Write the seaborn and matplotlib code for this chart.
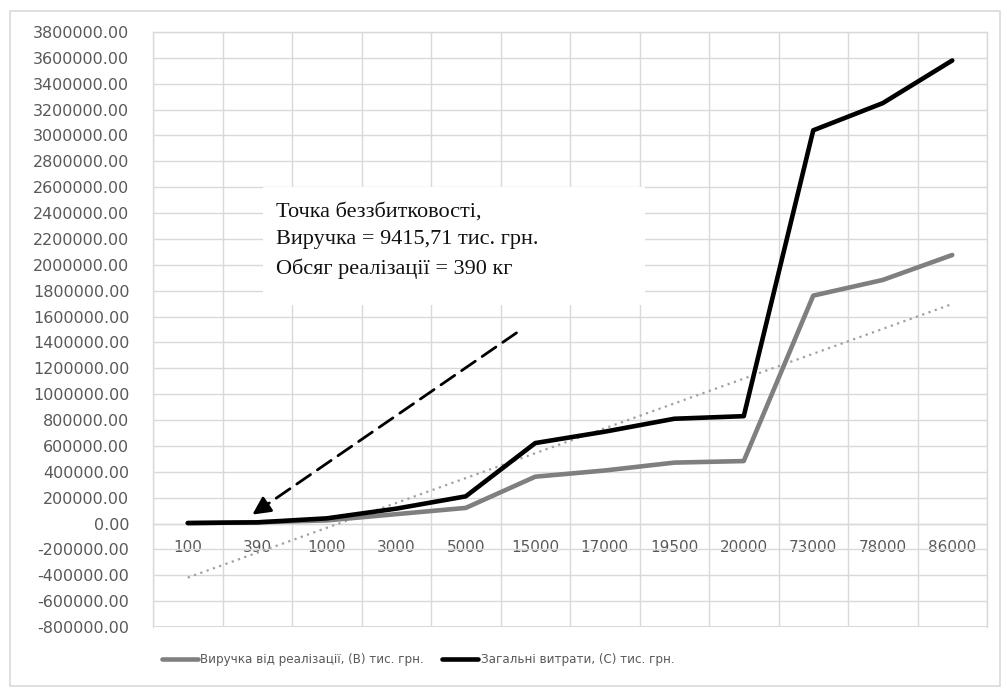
import numpy as np
import pandas as pd
import matplotlib
matplotlib.use("Agg")
import matplotlib.pyplot as plt
import seaborn as sns
from matplotlib.patches import Rectangle
from matplotlib.lines import Line2D

# ---- data ----
volumes = ["100", "390", "1000", "3000", "5000", "15000", "17000",
           "19500", "20000", "73000", "78000", "86000"]
revenue = [2414, 9415.71, 24143, 72430, 120700, 362000, 410000,
           470800, 482900, 1762000, 1883000, 2076000]
total_costs = [4000, 9000, 40000, 115000, 210000, 622000, 710000,
               810000, 830000, 3040000, 3250000, 3580000]
series_names = ["Виручка від реалізації, (В) тис. грн.",
                "Загальні витрати, (С) тис. грн."]
annotation_lines = ["Точка беззбитковості,",
                    "Виручка = 9415,71 тис. грн.",
                    "Обсяг реалізації = 390 кг"]
y_ticks = list(range(-800000, 3800001, 200000))

sns.set_theme(style="white")
plt.rcParams["font.family"] = ["DejaVu Sans"]

W, H = 1007, 689
fig = plt.figure(figsize=(W / 100, H / 100), dpi=100)
ax = fig.add_axes([153 / W, 1 - 627 / H, (987 - 153) / W, (627 - 32) / H])

idx = np.arange(len(volumes))
df = pd.DataFrame({
    "idx": np.concatenate([idx, idx]),
    "value": revenue + total_costs,
    "series": [series_names[0]] * len(idx) + [series_names[1]] * len(idx),
})
grid_c = "#d9d9d9"
sns.lineplot(data=df, x="idx", y="value", hue="series", sort=False,
             palette={series_names[0]: "#7f7f7f", series_names[1]: "#000000"},
             linewidth=3.3, legend=False, ax=ax, zorder=4)

# linear trendline of revenue
coef = np.polyfit(idx + 1, revenue, 1)
trend = np.polyval(coef, idx + 1)
ax.plot(idx, trend, linestyle=(0, (1, 2)), color="#a0a0a0", linewidth=1.6, zorder=3)

ax.set_xlim(-0.5, len(volumes) - 0.5)
ax.set_ylim(-800000, 3800000)
ax.set_yticks(y_ticks)
ax.set_yticklabels([f"{v:.2f}" for v in y_ticks])
ax.set_xticks(idx)
ax.set_xticklabels(volumes)
ax.set_xticks(np.arange(-0.5, len(volumes), 1.0), minor=True)
ax.set_xlabel("")
ax.set_ylabel("")

ax.grid(False)
ax.yaxis.grid(True, color=grid_c, linewidth=1.0)
ax.xaxis.grid(True, which="minor", color=grid_c, linewidth=1.0)
ax.set_axisbelow(True)
for s in ["left", "right", "top"]:
    ax.spines[s].set_color(grid_c)
    ax.spines[s].set_linewidth(1.0)
ax.spines["bottom"].set_position(("data", 0))
ax.spines["bottom"].set_color(grid_c)
ax.spines["bottom"].set_linewidth(1.0)
ax.axhline(-800000, color=grid_c, linewidth=1.5, zorder=0)

ax.tick_params(axis="y", length=0, pad=17, labelsize=11.5, labelcolor="#595959")
ax.tick_params(axis="x", which="both", length=0, pad=12, labelsize=11, labelcolor="#595959")

# annotation box
ax.add_patch(Rectangle(((263 - 153) / 834, (627 - 305) / 595), (645 - 263) / 834,
                       (305 - 187) / 595, transform=ax.transAxes,
                       facecolor="white", edgecolor="none", zorder=2))
ax.text((276 - 153) / 834, (627 - 203) / 595, "\n".join(annotation_lines),
        transform=ax.transAxes, ha="left", va="top", fontsize=16,
        family=["Liberation Serif"], color="#111111", linespacing=1.6, zorder=5)

# dashed arrow towards break-even point
tip = np.array([0.93, 69000.0])
tail = np.array([4.73, 1474000.0])
ax.annotate("", xy=tip, xytext=tail,
            arrowprops=dict(arrowstyle="-", linestyle=(0, (6, 3)), lw=2.0,
                            color="black", shrinkA=0, shrinkB=6),
            zorder=5)
head_base = tip + 0.06 * (tail - tip)
ax.annotate("", xy=tip, xytext=head_base,
            arrowprops=dict(arrowstyle="-|>,head_length=0.9,head_width=0.45",
                            lw=2.0, color="black", shrinkA=0, shrinkB=0),
            zorder=5)

# legend
handles = [Line2D([], [], color="#7f7f7f", lw=3.3),
           Line2D([], [], color="#000000", lw=3.3)]
leg = fig.legend(handles, series_names, loc="center left",
                 bbox_to_anchor=(150 / W, 1 - 660 / H), ncol=2, frameon=False,
                 prop=dict(family="DejaVu Sans", stretch="condensed", size=9.5),
                 handlelength=2.7, handletextpad=0.2,
                 columnspacing=1.4, labelcolor="#595959")

# outer chart border
fig.patches.append(Rectangle((10 / W, 1 - 686 / H), 990 / W, 675 / H,
                             transform=fig.transFigure, facecolor="none",
                             edgecolor="#d9d9d9", linewidth=1.2))

fig.savefig("out.png", dpi=100)
